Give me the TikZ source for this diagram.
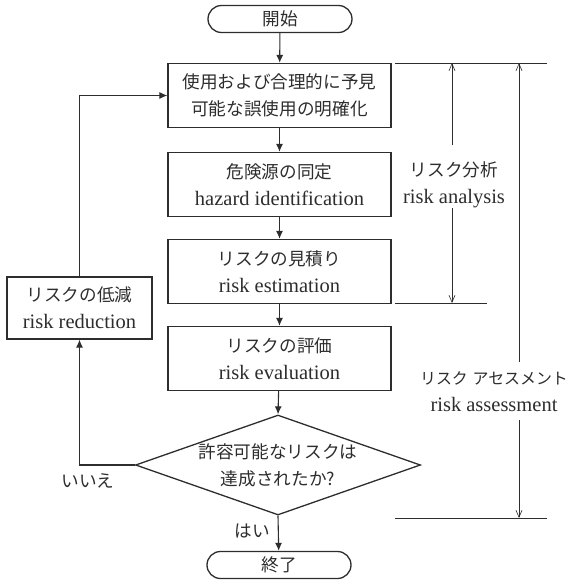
\documentclass[tikz,border=0pt]{standalone}
\usepackage{fontspec}
\setmainfont{Liberation Serif}
\newfontfamily\jp{Noto Sans CJK JP}[Scale=0.86]
\usetikzlibrary{arrows.meta,shapes.geometric,shapes.misc}
\definecolor{ink}{RGB}{45,45,45}
\tikzset{
  base/.style={font=\fontsize{20.5}{27}\selectfont, text=ink, align=center},
  procbox/.style={base, draw=ink, line width=1.3pt, minimum width=223pt, minimum height=64pt, inner sep=0pt},
  termbox/.style={base, draw=ink, line width=1.3pt, rounded rectangle, minimum width=144pt, minimum height=27pt, inner sep=0pt},
  decbox/.style={draw=ink, line width=1.3pt, diamond, minimum width=285pt, minimum height=100pt, inner sep=0pt},
  flow/.style={draw=ink, line width=1.1pt, -{Latex[length=8pt,width=7pt]}},
  dim/.style={draw=ink, line width=0.6pt},
  dimarrow/.style={dim, -{Straight Barb[length=7pt,width=6pt]}},
  lbl/.style={base, inner sep=0pt}
}
\begin{document}
\begin{tikzpicture}[x=1pt,y=-1pt]
\useasboundingbox (0,0) rectangle (572,582);
% main flow
\node[termbox] (start) at (280,19) {\jp 開始};
\node[procbox] (b1) at (279.5,95.5) {{\jp 使用および合理的に予見}\\{\jp 可能な誤使用の明確化}};
\node[procbox] (b2) at (279.5,184.5) {{\jp 危険源の同定}\\hazard identification};
\node[procbox] (b3) at (279.5,271.5) {{\jp リスクの見積り}\\risk estimation};
\node[procbox] (b4) at (279.5,358.5) {{\jp リスクの評価}\\risk evaluation};
\node[decbox] (dec) at (278,465) {};
\node[lbl] (dect) at (278,465) {{\jp 許容可能なリスクは}\\{\jp 達成されたか?}};
\node[termbox] (stop) at (279,565) {\jp 終了};
\node[procbox, minimum width=145pt, minimum height=62pt] (red) at (79.5,308) {{\jp リスクの低減}\\risk reduction};
% connectors
\draw[flow] (start) -- (b1);
\draw[flow] (b1) -- (b2);
\draw[flow] (b2) -- (b3);
\draw[flow] (b3) -- (b4);
\draw[flow] (b4) -- (dec.north);
\draw[flow] (dec.south) -- (stop);
\draw[flow] (dec.west) -| (red.south);
\draw[flow] (red.north) |- (b1.west);
\node[lbl] (no) at (88,481) {\jp いいえ};
\node[lbl] (yes) at (252,531) {\jp はい};
% dimension lines
\coordinate (t1) at (395,63);
\coordinate (t2) at (547,63);
\coordinate (m1) at (395,303);
\coordinate (m2) at (487,303);
\coordinate (u1) at (395,518);
\coordinate (u2) at (547,518);
\draw[dim] (t1) -- (t2);
\draw[dim] (m1) -- (m2);
\draw[dim] (u1) -- (u2);
\node[lbl] (ana) at (454,185) {{\jp リスク分析}\\risk analysis};
\node[lbl] (ass) at (494,392) {{\fontsize{18.5}{27}\selectfont\jp リスク\hspace{0.3em}アセスメント}\\risk assessment};
\coordinate (aT) at (452,63);
\coordinate (aA) at (452,145);
\coordinate (aB) at (452,208);
\coordinate (aM) at (452,303);
\coordinate (sT) at (519,63);
\coordinate (sA) at (519,362);
\coordinate (sB) at (519,420);
\coordinate (sU) at (519,518);
\draw[dimarrow] (aA) -- (aT);
\draw[dimarrow] (aB) -- (aM);
\draw[dimarrow] (sA) -- (sT);
\draw[dimarrow] (sB) -- (sU);
\end{tikzpicture}
\end{document}
